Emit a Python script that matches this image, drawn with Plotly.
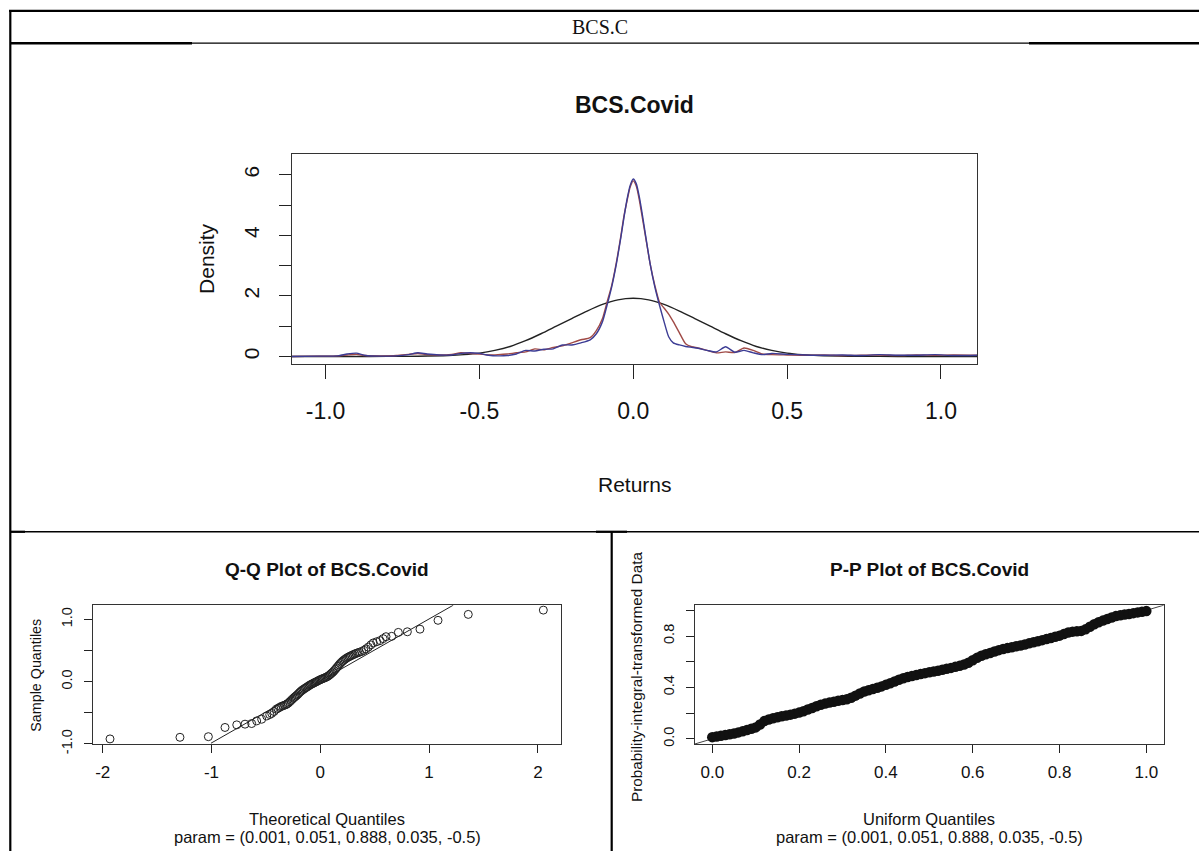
import plotly.graph_objects as go

W, H = 1199, 861

# ---------------- data ----------------
# Density panel: kernel density estimates (blue, red) and fitted normal (black)
kde_x = [-1.11, -1.02, -0.96, -0.93, -0.90, -0.87, -0.82, -0.77, -0.73, -0.70, -0.67, -0.63,
         -0.59, -0.56, -0.53, -0.50, -0.47, -0.44, -0.41, -0.38, -0.35, -0.32, -0.29, -0.26,
         -0.23, -0.20, -0.17, -0.14, -0.12, -0.10, -0.085, -0.07, -0.055, -0.04, -0.03, -0.02,
         -0.01, 0.0, 0.01, 0.02, 0.03, 0.04, 0.055, 0.07, 0.085, 0.10, 0.115, 0.13, 0.15, 0.17,
         0.19, 0.21, 0.24, 0.27, 0.30, 0.33, 0.36, 0.39, 0.42, 0.45, 0.50, 0.56, 0.62, 0.68,
         0.74, 0.80, 0.86, 0.92, 0.98, 1.04, 1.12]
kde_blue = [0.0, 0.01, 0.02, 0.08, 0.11, 0.03, 0.01, 0.02, 0.06, 0.12, 0.08, 0.05,
            0.05, 0.10, 0.12, 0.10, 0.04, 0.02, 0.03, 0.08, 0.20, 0.18, 0.24, 0.25,
            0.38, 0.38, 0.45, 0.55, 0.75, 1.15, 1.70, 2.30, 3.05, 3.95, 4.60, 5.20,
            5.65, 5.86, 5.70, 5.25, 4.65, 4.00, 3.05, 2.30, 1.70, 1.15, 0.65, 0.45, 0.38, 0.33,
            0.30, 0.27, 0.20, 0.15, 0.32, 0.14, 0.20, 0.12, 0.06, 0.10, 0.07, 0.05, 0.04, 0.05,
            0.03, 0.06, 0.04, 0.04, 0.06, 0.03, 0.04]
kde_red = [0.0, 0.01, 0.02, 0.05, 0.07, 0.03, 0.02, 0.03, 0.07, 0.10, 0.06, 0.05,
           0.07, 0.12, 0.10, 0.08, 0.05, 0.06, 0.08, 0.12, 0.15, 0.25, 0.22, 0.30,
           0.35, 0.45, 0.55, 0.62, 0.85, 1.25, 1.80, 2.35, 3.10, 4.00, 4.65, 5.15,
           5.60, 5.80, 5.62, 5.15, 4.55, 3.95, 3.05, 2.35, 1.80, 1.60, 1.40, 1.15, 0.78, 0.42,
           0.32, 0.28, 0.20, 0.12, 0.15, 0.13, 0.28, 0.20, 0.08, 0.06, 0.05, 0.04, 0.05, 0.03,
           0.04, 0.05, 0.03, 0.05, 0.04, 0.05, 0.04]
norm_x = [-1.11, -0.9, -0.8, -0.7, -0.6, -0.55, -0.5, -0.45, -0.4, -0.35, -0.3, -0.25, -0.2,
          -0.15, -0.1, -0.05, 0.0, 0.05, 0.1, 0.15, 0.2, 0.25, 0.3, 0.35, 0.4, 0.45, 0.5,
          0.55, 0.6, 0.7, 0.8, 0.9, 1.12]
norm_y = [0.0, 0.0, 0.001, 0.007, 0.03, 0.06, 0.11, 0.2, 0.33, 0.52, 0.75, 1.0, 1.25,
          1.5, 1.72, 1.87, 1.92, 1.87, 1.72, 1.5, 1.25, 1.0, 0.75, 0.52, 0.33, 0.2, 0.11,
          0.06, 0.03, 0.007, 0.001, 0.0, 0.0]

# Q-Q panel
qq_theoretical = [-1.933, -1.290, -1.029, -0.876, -0.768, -0.692, -0.631, -0.585, -0.539, -0.493,
                  -0.465, -0.447, -0.425, -0.405, -0.390, -0.375, -0.360, -0.345, -0.330, -0.318,
                  -0.306, -0.294, -0.282, -0.270, -0.258, -0.246, -0.235, -0.224, -0.213, -0.202,
                  -0.191, -0.180, -0.169, -0.158, -0.147, -0.136, -0.125, -0.114, -0.103, -0.092,
                  -0.081, -0.070, -0.059, -0.048, -0.037, -0.026, -0.015, -0.004, 0.007, 0.018,
                  0.029, 0.040, 0.051, 0.062, 0.073, 0.084, 0.095, 0.106, 0.117, 0.128,
                  0.139, 0.150, 0.161, 0.172, 0.183, 0.194, 0.205, 0.216, 0.228, 0.240,
                  0.252, 0.264, 0.276, 0.289, 0.302, 0.316, 0.330, 0.345, 0.360, 0.380,
                  0.400, 0.420, 0.441, 0.465, 0.487, 0.518, 0.549, 0.577, 0.604, 0.656,
                  0.717, 0.800, 0.916, 1.082, 1.360, 2.050]
qq_sample = [-0.921, -0.895, -0.885, -0.737, -0.695, -0.684, -0.674, -0.632, -0.605, -0.553,
             -0.530, -0.511, -0.480, -0.445, -0.430, -0.415, -0.400, -0.390, -0.380, -0.372,
             -0.360, -0.345, -0.325, -0.305, -0.285, -0.265, -0.248, -0.232, -0.215, -0.196,
             -0.176, -0.158, -0.142, -0.128, -0.115, -0.102, -0.090, -0.078, -0.064, -0.052,
             -0.042, -0.032, -0.022, -0.012, -0.003, 0.008, 0.018, 0.027, 0.036, 0.045,
             0.052, 0.060, 0.068, 0.078, 0.090, 0.104, 0.120, 0.138, 0.155, 0.175,
             0.198, 0.222, 0.245, 0.268, 0.290, 0.310, 0.328, 0.345, 0.360, 0.375,
             0.388, 0.400, 0.410, 0.421, 0.432, 0.443, 0.453, 0.463, 0.472, 0.484,
             0.502, 0.525, 0.553, 0.590, 0.621, 0.640, 0.658, 0.690, 0.721, 0.727,
             0.790, 0.800, 0.842, 0.984, 1.079, 1.148]
qq_line_x = [-1.005, 1.222]
qq_line_y = [-0.990, 1.227]

# P-P panel
pp_uniform = [0.00, 0.01, 0.02, 0.03, 0.04, 0.05, 0.06, 0.07, 0.08, 0.09,
              0.10, 0.11, 0.12, 0.13, 0.14, 0.15, 0.16, 0.17, 0.18, 0.19,
              0.20, 0.21, 0.22, 0.23, 0.24, 0.25, 0.26, 0.27, 0.28, 0.29,
              0.30, 0.31, 0.32, 0.33, 0.34, 0.35, 0.36, 0.37, 0.38, 0.39,
              0.40, 0.41, 0.42, 0.43, 0.44, 0.45, 0.46, 0.47, 0.48, 0.49,
              0.50, 0.51, 0.52, 0.53, 0.54, 0.55, 0.56, 0.57, 0.58, 0.59,
              0.60, 0.61, 0.62, 0.63, 0.64, 0.65, 0.66, 0.67, 0.68, 0.69,
              0.70, 0.71, 0.72, 0.73, 0.74, 0.75, 0.76, 0.77, 0.78, 0.79,
              0.80, 0.81, 0.82, 0.83, 0.84, 0.85, 0.86, 0.87, 0.88, 0.89,
              0.90, 0.91, 0.92, 0.93, 0.94, 0.95, 0.96, 0.97, 0.98, 0.99, 1.00]
pp_transformed = [0.013, 0.018, 0.024, 0.030, 0.036, 0.042, 0.050, 0.058, 0.068, 0.078,
                  0.089, 0.112, 0.138, 0.150, 0.160, 0.168, 0.175, 0.181, 0.188, 0.196,
                  0.204, 0.215, 0.228, 0.240, 0.253, 0.265, 0.274, 0.282, 0.289, 0.296,
                  0.302, 0.308, 0.320, 0.336, 0.353, 0.368, 0.378, 0.388, 0.398, 0.408,
                  0.420, 0.433, 0.446, 0.460, 0.472, 0.481, 0.489, 0.497, 0.504, 0.511,
                  0.518, 0.524, 0.530, 0.537, 0.545, 0.552, 0.560, 0.568, 0.578, 0.592,
                  0.612, 0.630, 0.646, 0.658, 0.668, 0.679, 0.690, 0.699, 0.706, 0.713,
                  0.720, 0.726, 0.734, 0.743, 0.751, 0.760, 0.768, 0.776, 0.785, 0.794,
                  0.803, 0.815, 0.827, 0.834, 0.837, 0.840, 0.852, 0.872, 0.892, 0.907,
                  0.920, 0.932, 0.944, 0.955, 0.961, 0.967, 0.972, 0.978, 0.984, 0.989, 0.994]
pp_line = [-0.1, 1.1]

# tick labels
top_x_ticks = [-1.0, -0.5, 0.0, 0.5, 1.0]
top_x_text = ["-1.0", "-0.5", "0.0", "0.5", "1.0"]
top_y_ticks = [0, 1, 2, 3, 4, 5, 6]
top_y_text = ["0", "", "2", "", "4", "", "6"]
qq_x_ticks = [-2, -1, 0, 1, 2]
qq_x_text = ["-2", "-1", "0", "1", "2"]
qq_y_ticks = [-1.0, -0.5, 0.0, 0.5, 1.0]
qq_y_text = ["-1.0", "", "0.0", "", "1.0"]
pp_x_ticks = [0.0, 0.2, 0.4, 0.6, 0.8, 1.0]
pp_x_text = ["0.0", "0.2", "0.4", "0.6", "0.8", "1.0"]
pp_y_ticks = [0.0, 0.2, 0.4, 0.6, 0.8, 1.0]
pp_y_text = ["0.0", "", "0.4", "", "0.8", ""]

# ---------------- figure ----------------
NARROW = "Liberation Sans Narrow, Arial Narrow, Liberation Sans, Arial, sans-serif"
SANS = "Liberation Sans, Arial, sans-serif"
SERIF = "Liberation Serif, Times New Roman, serif"

def fx(p):
    return p / W

def fy(p):
    return 1 - p / H

fig = go.Figure()

fig.add_trace(go.Scatter(x=norm_x, y=norm_y, mode="lines", line=dict(color="#222222", width=1.4, shape="spline", smoothing=0.8),
                         xaxis="x", yaxis="y", hoverinfo="skip"))
fig.add_trace(go.Scatter(x=kde_x, y=kde_red, mode="lines", line=dict(color="#a04a46", width=1.4, shape="spline", smoothing=0.6),
                         xaxis="x", yaxis="y", hoverinfo="skip"))
fig.add_trace(go.Scatter(x=kde_x, y=kde_blue, mode="lines", line=dict(color="#3c3c94", width=1.4, shape="spline", smoothing=0.6),
                         xaxis="x", yaxis="y", hoverinfo="skip"))

fig.add_trace(go.Scatter(x=qq_line_x, y=qq_line_y, mode="lines", line=dict(color="#222222", width=1),
                         xaxis="x2", yaxis="y2", hoverinfo="skip"))
fig.add_trace(go.Scatter(x=qq_theoretical, y=qq_sample, mode="markers",
                         marker=dict(symbol="circle-open", size=8, color="#222222", line=dict(width=1)),
                         xaxis="x2", yaxis="y2", hoverinfo="skip"))

fig.add_trace(go.Scatter(x=pp_line, y=pp_line, mode="lines", line=dict(color="#444444", width=1),
                         xaxis="x3", yaxis="y3", hoverinfo="skip"))
fig.add_trace(go.Scatter(x=pp_uniform, y=pp_transformed, mode="markers",
                         marker=dict(symbol="circle", size=10.5, color="#111111"),
                         xaxis="x3", yaxis="y3", hoverinfo="skip"))

axis_common = dict(showline=True, mirror=True, linecolor="#333333", linewidth=1.2, ticks="outside",
                   tickcolor="#222222", tickwidth=1.2, showgrid=False, zeroline=False, fixedrange=True)

fig.update_layout(
    width=W, height=H, margin=dict(l=0, r=0, t=0, b=0),
    paper_bgcolor="white", plot_bgcolor="white", showlegend=False,
    xaxis=dict(axis_common, domain=[fx(292), fx(977.3)], range=[-1.109, 1.118], anchor="y",
               tickvals=top_x_ticks, ticktext=top_x_text, ticklen=14,
               tickfont=dict(family=NARROW, size=23, color="#111111"), ticklabelstandoff=12),
    yaxis=dict(axis_common, domain=[fy(368.3), fy(156)], range=[-0.25, 6.68], anchor="x",
               tickvals=top_y_ticks, ticktext=top_y_text, ticklen=12, tickangle=-90,
               tickfont=dict(family=SANS, size=21, color="#111111"), ticklabelstandoff=12),
    xaxis2=dict(axis_common, domain=[fx(92.6), fx(561.4)], range=[-2.093, 2.216], anchor="y2",
                tickvals=qq_x_ticks, ticktext=qq_x_text, ticklen=7.5,
                tickfont=dict(family=NARROW, size=17, color="#111111"), ticklabelstandoff=5),
    yaxis2=dict(axis_common, domain=[fy(752.7), fy(612.3)], range=[-1.002, 1.227], anchor="x2",
                tickvals=qq_y_ticks, ticktext=qq_y_text, ticklen=8, tickangle=-90,
                tickfont=dict(family=SANS, size=14.5, color="#111111"), ticklabelstandoff=6),
    xaxis3=dict(axis_common, domain=[fx(694.9), fx(1163.7)], range=[-0.04, 1.04], anchor="y3",
                tickvals=pp_x_ticks, ticktext=pp_x_text, ticklen=7.5,
                tickfont=dict(family=NARROW, size=17, color="#111111"), ticklabelstandoff=5),
    yaxis3=dict(axis_common, domain=[fy(752.7), fy(612.3)], range=[-0.04, 1.04], anchor="x3",
                tickvals=pp_y_ticks, ticktext=pp_y_text, ticklen=8, tickangle=-90,
                tickfont=dict(family=SANS, size=14.5, color="#111111"), ticklabelstandoff=6),
)

def note(text, x, y, family, size, angle=0):
    fig.add_annotation(text=text, x=fx(x), y=fy(y), xref="paper", yref="paper",
                       xanchor="center", yanchor="middle", showarrow=False, textangle=angle,
                       font=dict(family=family, size=size, color="#111111"))

note("BCS.C", 600, 27, SERIF, 20)
note("<b>BCS.Covid</b>", 634.6, 106, NARROW, 23)
note("Returns", 634.6, 490, NARROW, 21)
note("Density", 207, 262, SANS, 21, -90)

note("<b>Q-Q Plot of BCS.Covid</b>", 327, 576, NARROW, 19)
note("Sample Quantiles", 35.6, 683, SANS, 14.3, -90)
note("Theoretical Quantiles", 327, 829, NARROW, 16.5)
note("param = (0.001, 0.051, 0.888, 0.035, -0.5)", 327, 847, NARROW, 16.5)

note("<b>P-P Plot of BCS.Covid</b>", 929.3, 576, NARROW, 19)
note("Probability-integral-transformed Data", 636, 685, SANS, 15.3, -90)
note("Uniform Quantiles", 929.3, 829, NARROW, 16.5)
note("param = (0.001, 0.051, 0.888, 0.035, -0.5)", 929.3, 847, NARROW, 16.5)

# table rules around the panels
def rule(x0, y0, x1, y1, w):
    fig.add_shape(type="line", xref="paper", yref="paper", x0=fx(x0), y0=fy(y0), x1=fx(x1), y1=fy(y1),
                  line=dict(color="black", width=w))

rule(9, 11, 1199, 11, 2.2)        # top border
rule(10.3, 10, 10.3, 861, 2.2)    # left border
rule(10, 43.7, 1199, 43.7, 1.2)   # header rule
rule(10, 43.7, 192, 43.7, 2.6)
rule(1029, 43.7, 1199, 43.7, 2.6)
rule(10, 538, 1199, 538, 1.3)     # row rule
rule(10, 538, 25, 538, 2.2)
rule(596, 538, 627, 538, 2.2)
rule(611.7, 538, 611.7, 861, 2.2) # column rule

fig.write_html("out.html", config={"displayModeBar": False})
